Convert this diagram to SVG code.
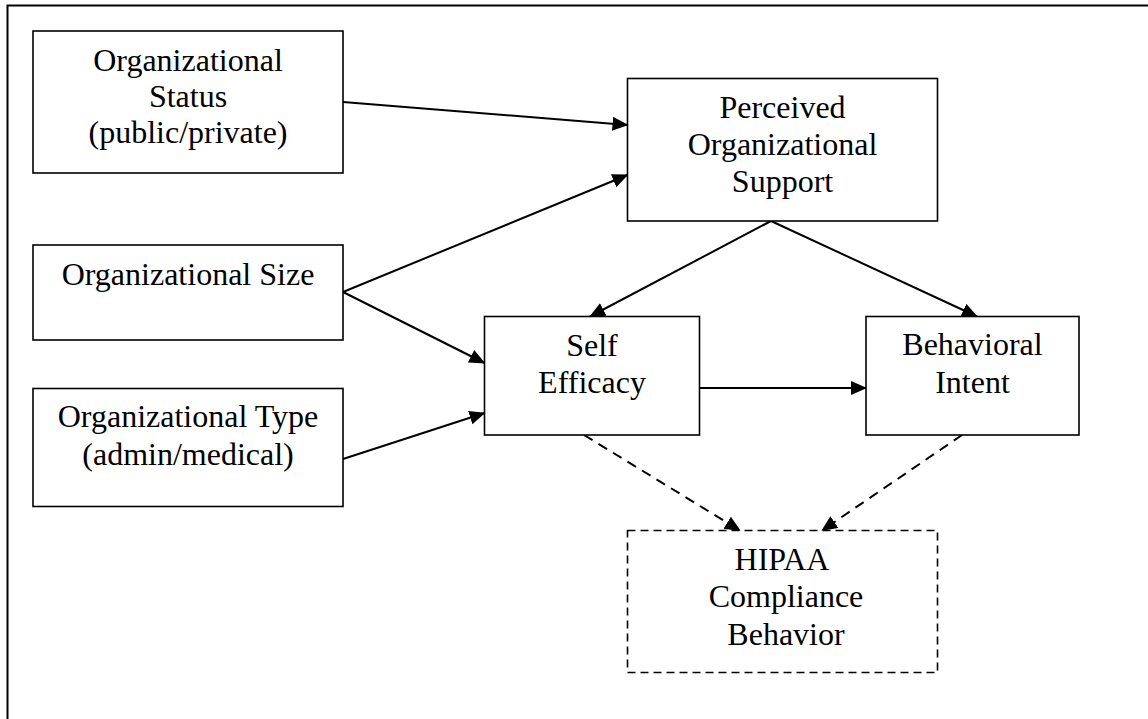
<svg xmlns="http://www.w3.org/2000/svg" width="1148" height="719" viewBox="0 0 1148 719">
  <defs>
    <marker id="arrow" markerUnits="userSpaceOnUse" markerWidth="18" markerHeight="16" refX="15" refY="7" orient="auto">
      <path d="M0,0 L16,7 L0,14 Z" fill="#000"/>
    </marker>
    <style>
      .box { fill: #fff; stroke: #000; stroke-width: 1.6; }
      .dashed { stroke-dasharray: 8 5; }
      .label { font-family: "Liberation Serif", "Times New Roman", serif; font-size: 32px; fill: #000; text-anchor: middle; }
      .link { stroke: #000; stroke-width: 2; fill: none; marker-end: url(#arrow); }
      .link.dash { stroke-dasharray: 10 7; }
    </style>
  </defs>

  <rect width="1148" height="719" fill="#fff"/>

  <!-- page frame: top and left rules only -->
  <path d="M7.5,719 L7.5,5.5 L1148,5.5" fill="none" stroke="#000" stroke-width="2"/>

  <g id="connectors">
    <line class="link" x1="343" y1="102" x2="627.5" y2="125"/>
    <line class="link" x1="343" y1="292" x2="627.5" y2="175"/>
    <line class="link" x1="343" y1="292" x2="484.5" y2="363"/>
    <line class="link" x1="343" y1="459" x2="484.5" y2="413"/>
    <line class="link" x1="771" y1="221" x2="590" y2="316.5"/>
    <line class="link" x1="771" y1="221" x2="977" y2="316.5"/>
    <line class="link" x1="700" y1="388" x2="866" y2="388"/>
    <line class="link dash" x1="584" y1="435" x2="740" y2="530.5"/>
    <line class="link dash" x1="962" y1="435" x2="822" y2="530.5"/>
  </g>

  <g id="org-status">
    <rect class="box" x="33" y="31" width="310" height="142"/>
    <text class="label" x="188" y="71">Organizational</text>
    <text class="label" x="188" y="107">Status</text>
    <text class="label" x="188" y="143">(public/private)</text>
  </g>

  <g id="org-size">
    <rect class="box" x="33" y="245" width="310" height="95"/>
    <text class="label" x="188" y="285">Organizational Size</text>
  </g>

  <g id="org-type">
    <rect class="box" x="33" y="388.5" width="310" height="118"/>
    <text class="label" x="188" y="427">Organizational Type</text>
    <text class="label" x="188" y="465">(admin/medical)</text>
  </g>

  <g id="perceived-support">
    <rect class="box" x="627.5" y="78.5" width="310" height="142.5"/>
    <text class="label" x="782.5" y="118">Perceived</text>
    <text class="label" x="782.5" y="155">Organizational</text>
    <text class="label" x="782.5" y="192">Support</text>
  </g>

  <g id="self-efficacy">
    <rect class="box" x="484.5" y="316.5" width="215" height="118.5"/>
    <text class="label" x="592" y="356">Self</text>
    <text class="label" x="592" y="393">Efficacy</text>
  </g>

  <g id="behavioral-intent">
    <rect class="box" x="866" y="316.5" width="213" height="118.5"/>
    <text class="label" x="972.5" y="355">Behavioral</text>
    <text class="label" x="972.5" y="393">Intent</text>
  </g>

  <g id="hipaa-compliance">
    <rect class="box dashed" x="627.5" y="530.5" width="310" height="142"/>
    <text class="label" x="782" y="570">HIPAA</text>
    <text class="label" x="786" y="607">Compliance</text>
    <text class="label" x="786" y="645">Behavior</text>
  </g>
</svg>
